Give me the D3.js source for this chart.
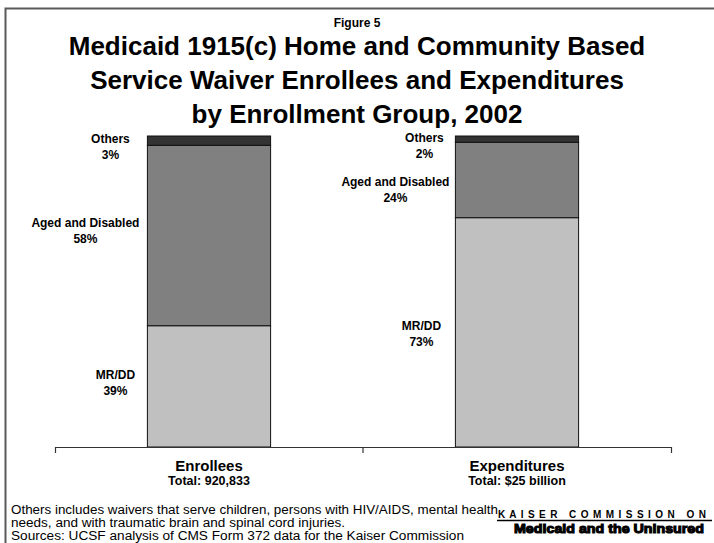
<!DOCTYPE html>
<html>
<head>
<meta charset="utf-8">
<script src="https://cdn.jsdelivr.net/npm/d3@7"></script>
<style>
  html, body { margin: 0; padding: 0; background: #fff; }
  svg { display: block; font-family: "Liberation Sans", Arial, sans-serif; }
</style>
</head>
<body>
<svg id="chart" width="714" height="543"></svg>
<script>
// ---- data ----
const categories = ["Enrollees", "Expenditures"];
const categoryTotals = ["Total: 920,833", "Total: $25 billion"];
const seriesNames = ["MR/DD", "Aged and Disabled", "Others"];
const mrddValues = [39, 73];
const agedValues = [58, 24];
const othersValues = [3, 2];
const seriesColors = ["#C0C0C0", "#808080", "#333333"];
const figureLabel = "Figure 5";
const titleLines = [
  "Medicaid 1915(c) Home and Community Based",
  "Service Waiver Enrollees and Expenditures",
  "by Enrollment Group, 2002"
];
const footnoteLines = [
  "Others includes waivers that serve children, persons with HIV/AIDS, mental health",
  "needs, and with traumatic brain and spinal cord injuries.",
  "Sources: UCSF analysis of CMS Form 372 data for the Kaiser Commission"
];
const logoTop = "KAISER COMMISSION ON";
const logoBottom = "Medicaid and the Uninsured";

// ---- layout ----
const labelNudge = {
  "Enrollees":    { "Others": [-37, 2.5], "Aged and Disabled": [-62, -9], "MR/DD": [-32, -7] },
  "Expenditures": { "Others": [-31, 3],   "Aged and Disabled": [-60, 6.5], "MR/DD": [-34, -2.5] }
};
const footnoteWidths = [487, 334, 453];

const svg = d3.select("#chart");

// frame
svg.append("rect")
  .attr("x", 5.5).attr("y", 8.5)
  .attr("width", 760).attr("height", 600)
  .attr("fill", "none").attr("stroke", "#5a5a5a").attr("stroke-width", 2);

// titles
svg.append("text")
  .attr("x", 357).attr("y", 27)
  .attr("text-anchor", "middle")
  .attr("font-weight", "bold").attr("font-size", 12)
  .text(figureLabel);

svg.selectAll("text.title").data(titleLines).enter().append("text")
  .attr("class", "title")
  .attr("x", 357)
  .attr("y", (d, i) => 55 + i * 34)
  .attr("text-anchor", "middle")
  .attr("font-weight", "bold").attr("font-size", 26)
  .text(d => d);

// scales
const plotLeft = 55, plotRight = 671, plotTop = 136, plotBottom = 447;
const x = d3.scaleBand().domain(categories)
  .range([plotLeft, plotRight]).paddingInner(0.6).paddingOuter(0.3);
const y = d3.scaleLinear().domain([0, 1]).range([plotBottom, plotTop]);

const rows = categories.map((c, i) => ({
  category: c,
  "MR/DD": mrddValues[i],
  "Aged and Disabled": agedValues[i],
  "Others": othersValues[i]
}));
const stacked = d3.stack().keys(seriesNames).offset(d3.stackOffsetExpand)(rows);
const raw = { "MR/DD": mrddValues, "Aged and Disabled": agedValues, "Others": othersValues };

const layers = svg.selectAll("g.layer").data(stacked).enter().append("g")
  .attr("class", "layer")
  .attr("fill", (d, i) => seriesColors[i]);

layers.selectAll("rect").data(d => d.map(p => ({ p, key: d.key }))).enter().append("rect")
  .attr("x", d => x(d.p.data.category))
  .attr("width", x.bandwidth())
  .attr("y", d => y(d.p[1]))
  .attr("height", d => y(d.p[0]) - y(d.p[1]))
  .attr("stroke", "#111").attr("stroke-width", 1);

// segment labels
stacked.forEach((layer) => {
  layer.forEach((p, ci) => {
    const cat = p.data.category;
    const nudge = labelNudge[cat][layer.key];
    const cx = x(cat) + nudge[0];
    const mid = (y(p[0]) + y(p[1])) / 2 + nudge[1];
    const t = svg.append("text")
      .attr("text-anchor", "middle")
      .attr("font-weight", "bold").attr("font-size", 12)
      .attr("fill", "#000");
    t.append("tspan").attr("x", cx).attr("y", mid).text(layer.key);
    t.append("tspan").attr("x", cx).attr("y", mid + 16).text(raw[layer.key][ci] + "%");
  });
});

// axis
const axis = d3.axisBottom(x).tickSize(0).tickSizeOuter(6).tickFormat("");
const gAxis = svg.append("g").attr("transform", `translate(0,${plotBottom})`).call(axis);
gAxis.select(".domain").attr("stroke", "#333").attr("stroke-width", 1.2);
const boundary = (x(categories[0]) + x.bandwidth() + x(categories[1])) / 2;
gAxis.append("line")
  .attr("x1", boundary).attr("x2", boundary)
  .attr("y1", 0).attr("y2", 6)
  .attr("stroke", "#333").attr("stroke-width", 1.2);

// category labels
categories.forEach((c, i) => {
  const cx = x(c) + x.bandwidth() / 2;
  svg.append("text").attr("x", cx).attr("y", 471)
    .attr("text-anchor", "middle").attr("font-weight", "bold").attr("font-size", 15)
    .text(c);
  svg.append("text").attr("x", cx).attr("y", 485)
    .attr("text-anchor", "middle").attr("font-weight", "bold").attr("font-size", 12.5)
    .text(categoryTotals[i]);
});

// footnotes
svg.selectAll("text.foot").data(footnoteLines).enter().append("text")
  .attr("class", "foot")
  .attr("x", 11).attr("y", (d, i) => 514 + i * 13)
  .attr("font-size", 12)
  .attr("textLength", (d, i) => footnoteWidths[i])
  .attr("lengthAdjust", "spacingAndGlyphs")
  .text(d => d);

// logo
svg.append("text")
  .attr("x", 498).attr("y", 518)
  .attr("font-weight", "bold").attr("font-size", 10)
  .style("white-space", "pre")
  .attr("textLength", 208).attr("lengthAdjust", "spacing")
  .text(logoTop.split("").join(" "));
svg.append("line").attr("x1", 497).attr("x2", 712).attr("y1", 520.5).attr("y2", 520.5)
  .attr("stroke", "#000").attr("stroke-width", 1.4);
svg.append("text")
  .attr("x", 514).attr("y", 533)
  .attr("font-weight", "bold").attr("font-size", 13.5)
  .attr("stroke", "#000").attr("stroke-width", 1.1)
  .attr("textLength", 190).attr("lengthAdjust", "spacingAndGlyphs")
  .text(logoBottom);
</script>
</body>
</html>
